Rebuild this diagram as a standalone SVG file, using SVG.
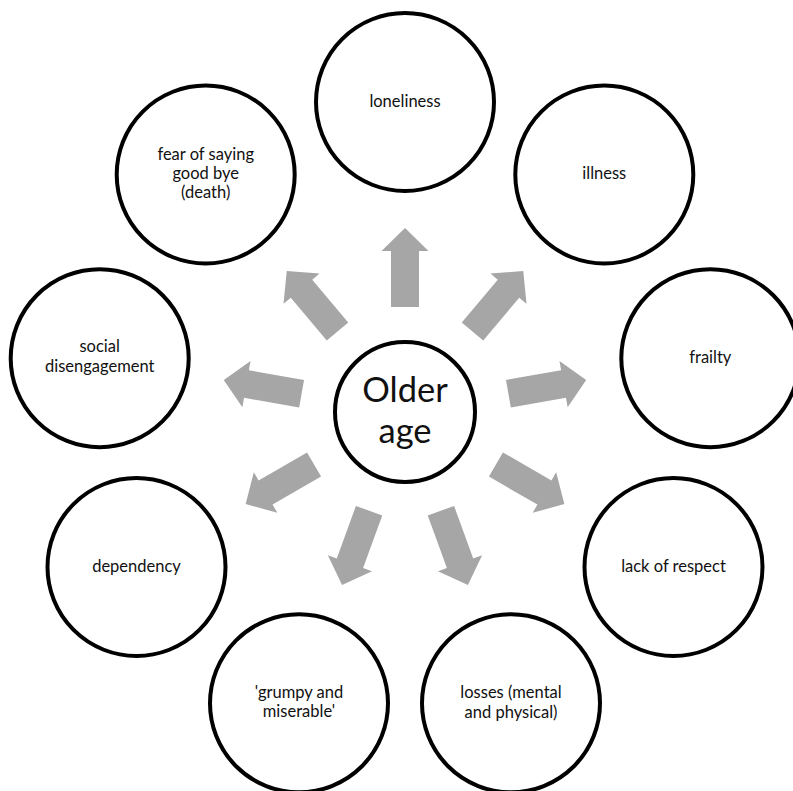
<svg xmlns="http://www.w3.org/2000/svg" xmlns:xlink="http://www.w3.org/1999/xlink" width="793" height="791" viewBox="0 0 793 791">
<style>
.node circle{fill:#fff;stroke:#000;stroke-width:4}
.lbl{font-family:Lato,"Open Sans","Liberation Sans",sans-serif;font-size:16.5px;fill:#111;text-anchor:middle}
.big{font-family:Lato,"Open Sans","Liberation Sans",sans-serif;font-size:34.5px;fill:#111;text-anchor:middle}
.arr{fill:#a6a6a6}
</style>
<defs>
<path id="arr" class="arr" d="M105,-14 L161,-14 L161,-23.5 L184,0 L161,23.5 L161,14 L105,14 Z"/>
</defs>
<rect width="793" height="791" fill="#fff"/>
<g id="connectors">
<use xlink:href="#arr" href="#arr" transform="translate(405,412) rotate(-90)"/>
<use xlink:href="#arr" href="#arr" transform="translate(405,412) rotate(-50)"/>
<use xlink:href="#arr" href="#arr" transform="translate(405,412) rotate(-10)"/>
<use xlink:href="#arr" href="#arr" transform="translate(405,412) rotate(30)"/>
<use xlink:href="#arr" href="#arr" transform="translate(405,412) rotate(70)"/>
<use xlink:href="#arr" href="#arr" transform="translate(405,412) rotate(110)"/>
<use xlink:href="#arr" href="#arr" transform="translate(405,412) rotate(150)"/>
<use xlink:href="#arr" href="#arr" transform="translate(405,412) rotate(190)"/>
<use xlink:href="#arr" href="#arr" transform="translate(405,412) rotate(230)"/>
</g>
<g id="older-age" class="node">
<circle cx="405" cy="412" r="70"/>
<text class="big" x="405" y="402">Older</text>
<text class="big" x="405" y="443">age</text>
</g>
<g id="loneliness" class="node">
<circle cx="405" cy="102" r="89"/>
<text class="lbl" x="405" y="107">loneliness</text>
</g>
<g id="illness" class="node">
<circle cx="604.3" cy="174.5" r="89"/>
<text class="lbl" x="604.3" y="179">illness</text>
</g>
<g id="frailty" class="node">
<circle cx="710.3" cy="358.2" r="89"/>
<text class="lbl" x="710.3" y="363">frailty</text>
</g>
<g id="lack-of-respect" class="node">
<circle cx="673.5" cy="567" r="89"/>
<text class="lbl" x="673.5" y="572">lack of respect</text>
</g>
<g id="losses" class="node">
<circle cx="511" cy="703.3" r="89"/>
<text class="lbl" x="511" y="698">losses (mental</text>
<text class="lbl" x="511" y="718">and physical)</text>
</g>
<g id="grumpy" class="node">
<circle cx="299" cy="703.3" r="89"/>
<text class="lbl" x="299" y="698">'grumpy and</text>
<text class="lbl" x="299" y="717">miserable'</text>
</g>
<g id="dependency" class="node">
<circle cx="136.5" cy="567" r="89"/>
<text class="lbl" x="136.5" y="572">dependency</text>
</g>
<g id="social-disengagement" class="node">
<circle cx="99.7" cy="358.2" r="89"/>
<text class="lbl" x="99.7" y="352">social</text>
<text class="lbl" x="99.7" y="372">disengagement</text>
</g>
<g id="fear" class="node">
<circle cx="205.7" cy="174.5" r="89"/>
<text class="lbl" x="205.7" y="160">fear of saying</text>
<text class="lbl" x="205.7" y="179">good bye</text>
<text class="lbl" x="205.7" y="198">(death)</text>
</g>
</svg>
